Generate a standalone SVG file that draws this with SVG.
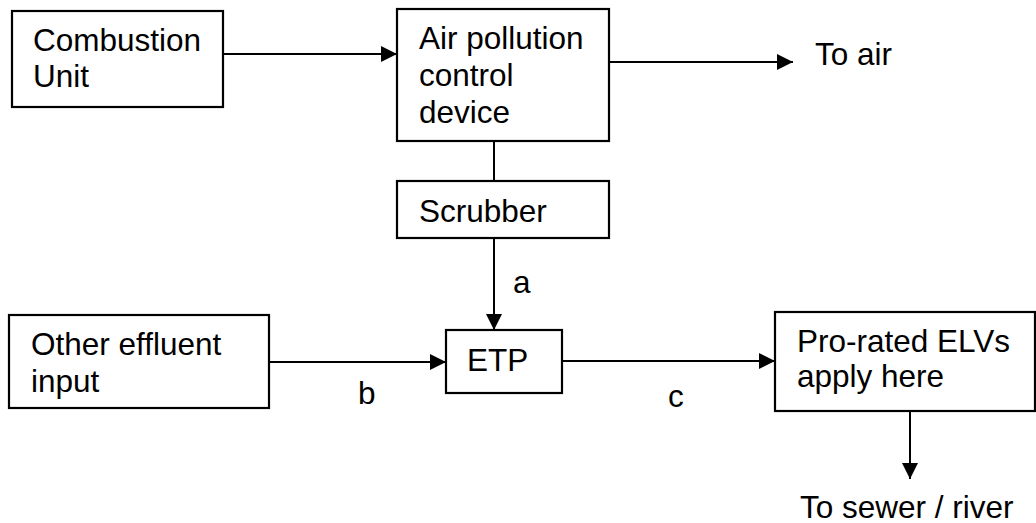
<svg xmlns="http://www.w3.org/2000/svg" width="1036" height="523" viewBox="0 0 1036 523">
<style>
.box{fill:#fff;stroke:#000;stroke-width:2.2}
.t{font-family:"Liberation Sans",Arial,sans-serif;font-size:31.5px;fill:#000}
.ln{stroke:#000;stroke-width:2;fill:none}
.ar{stroke:#000;stroke-width:2;fill:none;marker-end:url(#ah)}
</style>
<defs>
<marker id="ah" markerUnits="userSpaceOnUse" markerWidth="17" markerHeight="16" refX="16" refY="8" orient="auto">
<path d="M0,0 L16,8 L0,16 z" fill="#000"/>
</marker>
</defs>
<rect width="1036" height="523" fill="#fff"/>
<g id="connectors">
<line class="ar" x1="223" y1="54" x2="397" y2="54"/>
<line class="ar" x1="609" y1="62" x2="793" y2="62"/>
<line class="ln" x1="494" y1="141" x2="494" y2="181"/>
<line class="ar" x1="494" y1="238" x2="494" y2="330"/>
<line class="ar" x1="269" y1="362" x2="446" y2="362"/>
<line class="ar" x1="562" y1="361" x2="775" y2="361"/>
<line class="ar" x1="910" y1="411" x2="910" y2="479"/>
<text class="t" x="513" y="293">a</text>
<text class="t" x="358" y="404">b</text>
<text class="t" x="668" y="407">c</text>
</g>
<g id="combustion">
<rect class="box" x="12" y="11" width="211" height="96"/>
<text class="t" x="33" y="51">Combustion</text>
<text class="t" x="33" y="87">Unit</text>
</g>
<g id="apc">
<rect class="box" x="397" y="9" width="212" height="132"/>
<text class="t" x="419" y="49">Air pollution</text>
<text class="t" x="419" y="86">control</text>
<text class="t" x="419" y="123">device</text>
</g>
<g id="to-air">
<text class="t" x="815" y="65">To air</text>
</g>
<g id="scrubber">
<rect class="box" x="397" y="181" width="212" height="57"/>
<text class="t" x="419" y="222">Scrubber</text>
</g>
<g id="other-effluent">
<rect class="box" x="9" y="315" width="260" height="93"/>
<text class="t" x="31" y="355">Other effluent</text>
<text class="t" x="31" y="392">input</text>
</g>
<g id="etp">
<rect class="box" x="446" y="330" width="116" height="63"/>
<text class="t" x="467" y="371">ETP</text>
</g>
<g id="pro-rated">
<rect class="box" x="775" y="312" width="260" height="99"/>
<text class="t" x="797" y="352">Pro-rated ELVs</text>
<text class="t" x="797" y="387">apply here</text>
</g>
<g id="to-sewer">
<text class="t" x="800" y="518">To sewer / river</text>
</g>
</svg>
